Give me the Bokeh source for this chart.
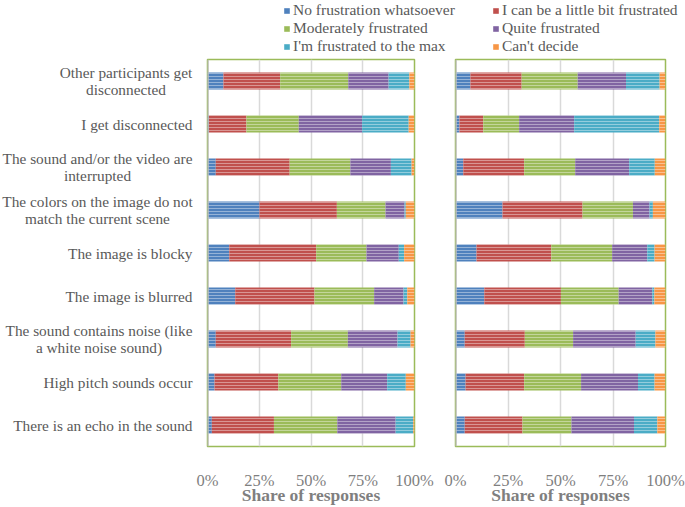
from bokeh.plotting import figure
from bokeh.models import (ColumnDataSource, FactorRange, Range1d, FixedTicker,
                          PrintfTickFormatter, Legend, LegendItem, Span)
from bokeh.core.properties import value
from bokeh.layouts import column, row
from bokeh.embed import file_html
from bokeh.resources import INLINE

categories = [
    "Other participants get\ndisconnected",
    "I get disconnected",
    "The sound and/or the video are\ninterrupted",
    "The colors on the image do not\nmatch the current scene",
    "The image is blocky",
    "The image is blurred",
    "The sound contains noise (like\na white noise sound)",
    "High pitch sounds occur",
    "There is an echo in the sound",
]

series = [
    "No frustration whatsoever",
    "I can be a little bit frustrated",
    "Moderately frustrated",
    "Quite frustrated",
    "I'm frustrated to the max",
    "Can't decide",
]
colors = ["#4F81BD", "#C0504D", "#9BBB59", "#8064A2", "#4BACC6", "#F79646"]

# Left panel (share of responses, %)
left_none = [7.7, 0.6, 4.0, 25.1, 10.5, 13.4, 4.0, 3.4, 2.1]
left_little = [27.4, 18.2, 35.7, 37.4, 42.0, 38.3, 36.4, 30.8, 30.0]
left_moderate = [32.9, 25.3, 29.3, 23.5, 24.3, 28.8, 27.4, 30.4, 30.6]
left_quite = [19.5, 30.6, 19.6, 9.2, 15.6, 14.2, 24.0, 22.2, 28.2]
left_max = [10.0, 22.5, 10.0, 0.6, 2.6, 1.8, 6.3, 9.0, 8.5]
left_cant = [2.6, 2.7, 1.3, 4.2, 5.0, 3.5, 1.9, 4.2, 0.6]

# Right panel (share of responses, %)
right_none = [7.1, 1.9, 3.7, 22.4, 10.0, 13.7, 4.4, 4.8, 4.4]
right_little = [24.4, 11.3, 29.0, 38.1, 35.6, 36.5, 28.6, 27.9, 27.5]
right_moderate = [26.7, 17.1, 24.3, 24.0, 29.0, 27.5, 23.0, 27.1, 23.3]
right_quite = [23.0, 26.2, 25.7, 7.9, 16.7, 16.0, 29.8, 27.1, 29.8]
right_max = [16.0, 40.5, 12.2, 1.6, 3.5, 1.0, 9.4, 7.9, 11.1]
right_cant = [2.7, 3.0, 5.1, 6.0, 5.2, 5.4, 4.8, 5.1, 3.8]

x_ticks = [0, 25, 50, 75, 100]

FONT = "Liberation Serif"
keys = ["s0", "s1", "s2", "s3", "s4", "s5"]
PANEL_H = 451
MB_TOP = 3
MB_BOTTOM = 50

y_range = FactorRange(factors=list(reversed(categories)))


def make_panel(vals, width, mbl, mbr):
    data = {"cat": categories}
    for k, v in zip(keys, vals):
        data[k] = v
    src = ColumnDataSource(data)
    p = figure(width=width, height=PANEL_H, toolbar_location=None, output_backend="svg",
               y_range=y_range, x_range=Range1d(0, 100),
               min_border_left=mbl, min_border_right=mbr,
               min_border_top=MB_TOP, min_border_bottom=MB_BOTTOM)
    p.hbar_stack(keys, y="cat", height=0.4, source=src,
                 fill_color=colors, line_color=None,
                 hatch_pattern="horizontal_line", hatch_color="white",
                 hatch_alpha=0.4, hatch_scale=3, hatch_weight=1)
    p.background_fill_color = "white"
    p.border_fill_color = "white"
    p.outline_line_color = "#9BBB59"
    p.outline_line_width = 1.5
    p.ygrid.visible = False
    p.xgrid.ticker = FixedTicker(ticks=x_ticks)
    p.xgrid.grid_line_color = "#D9D9D9"
    p.xgrid.grid_line_width = 1.5
    p.yaxis.visible = False
    p.add_layout(Span(location=0, dimension="height", line_color="#BFBFBF",
                      line_width=2.5))

    xa = p.xaxis[0]
    xa.ticker = FixedTicker(ticks=x_ticks)
    xa.formatter = PrintfTickFormatter(format="%d%%")
    xa.axis_line_color = None
    xa.major_tick_line_color = None
    xa.minor_tick_line_color = None
    xa.major_label_text_font = FONT
    xa.major_label_text_font_size = "16.5px"
    xa.major_label_text_color = "#7F7F7F"
    xa.major_label_standoff = 18
    xa.axis_label = "Share of responses"
    xa.axis_label_text_font = FONT
    xa.axis_label_text_font_size = "17.5px"
    xa.axis_label_text_font_style = "bold"
    xa.axis_label_text_color = "#7F7F7F"
    xa.axis_label_standoff = -8
    return p


p1 = make_panel([left_none, left_little, left_moderate, left_quite, left_max, left_cant],
                242, 11, 24)
p2 = make_panel([right_none, right_little, right_moderate, right_quite, right_max, right_cant],
                247, 17, 20)

# category label column (x in pixels of this narrow figure)
LAB_W = 196
lab = figure(width=LAB_W, height=PANEL_H, toolbar_location=None, output_backend="svg",
             y_range=y_range, x_range=Range1d(0, LAB_W),
             min_border_left=0, min_border_right=0,
             min_border_top=MB_TOP, min_border_bottom=MB_BOTTOM)
lab.axis.visible = False
lab.grid.visible = False
lab.outline_line_color = None
lab.background_fill_color = "white"
lab.border_fill_color = "white"
label_right = 192
single = [c for c in categories if "\n" not in c]
double = [c for c in categories if "\n" in c]
# width (px) of the longest line of each two-line label, lines are centred
double_widths = [133, 190, 190, 187]
lab.text(x=[label_right] * len(single), y=single, text=single,
         text_align="right", text_baseline="middle", text_font=value(FONT),
         text_font_size="15.3px", text_color="#595959")
lab.text(x=[label_right - w / 2 for w in double_widths], y=double, text=double,
         text_align="center", text_baseline="middle", text_font=value(FONT),
         text_font_size="15.3px", text_color="#595959", text_line_height=1.05)

# legend strip
lf = figure(width=685, height=56, toolbar_location=None, output_backend="svg",
            x_range=Range1d(0, 1), y_range=Range1d(0, 1), min_border=0)
lf.axis.visible = False
lf.grid.visible = False
lf.outline_line_color = None
lf.background_fill_color = "white"
lf.border_fill_color = "white"
items = []
for s, c in zip(series, colors):
    # zero-size proxy bar, only used for the legend swatch
    r = lf.hbar(y=[0], left=[0], right=[0], height=0, fill_color=c, line_color=None)
    items.append(LegendItem(label=s, renderers=[r]))
leg = Legend(items=items, location=(283, 1), orientation="horizontal", ncols=2,
             glyph_width=7, glyph_height=7, label_standoff=3, label_width=199,
             label_height=17, spacing=0, padding=0, margin=0,
             border_line_color=None, background_fill_alpha=0,
             label_text_font=FONT, label_text_font_size="15.5px",
             label_text_color="#595959")
lf.add_layout(leg, "center")

layout = column(lf, row(lab, p1, p2))

with open("out.html", "w") as f:
    f.write(file_html(layout, INLINE))
